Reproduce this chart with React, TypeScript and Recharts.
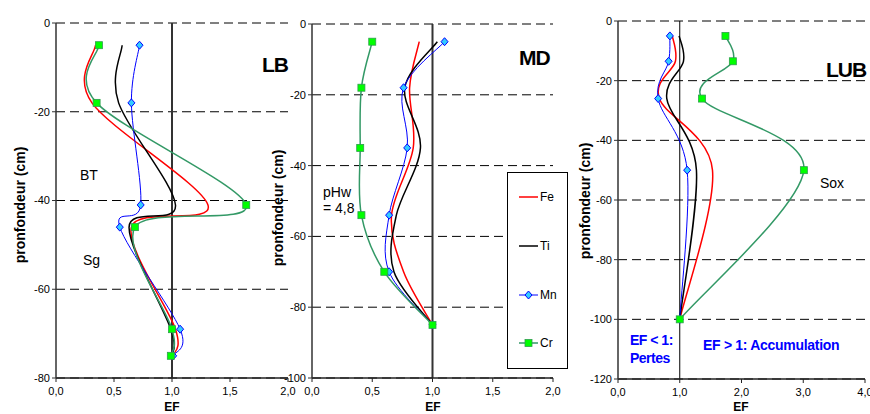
import React from 'react';
import { ScatterChart, Scatter, XAxis, YAxis, CartesianGrid, ReferenceLine } from 'recharts';

// ---- Data ----
const depthsLB = [-5, -18, -41, -46, -69, -75];
const feLB = [0.34, 0.31, 1.31, 0.65, 1.03, 1.01];
const tiLB = [0.57, 0.54, 1.03, 0.63, 0.99, 1.0];
const mnLB = [0.72, 0.65, 0.73, 0.55, 1.07, 1.01];
const crLB = [0.37, 0.35, 1.64, 0.68, 1.0, 0.99];

const depthsMD = [-5, -18, -35, -54, -70, -85];
const feMD = [0.89, 0.81, 0.84, 0.66, 0.76, 1.0];
const tiMD = [1.04, 0.77, 0.9, 0.7, 0.68, 1.0];
const mnMD = [1.1, 0.76, 0.79, 0.64, 0.64, 1.0];
const crMD = [0.5, 0.41, 0.4, 0.41, 0.6, 1.0];

const depthsLUB = [-5, -13.5, -26, -50, -100];
const feLUB = [0.88, 0.93, 0.67, 1.53, 1.0];
const tiLUB = [0.99, 1.06, 0.79, 1.27, 1.0];
const mnLUB = [0.84, 0.82, 0.65, 1.12, 1.0];
const crLUB = [1.74, 1.86, 1.36, 3.01, 1.0];

const xTicksSmall = [0, 0.5, 1, 1.5, 2];
const xTicksLUB = [0, 1, 2, 3, 4];
const yTicksLB = [0, -20, -40, -60, -80];
const yTicksMD = [0, -20, -40, -60, -80, -100];
const yTicksLUB = [0, -20, -40, -60, -80, -100, -120];

const seriesNames = ['Fe', 'Ti', 'Mn', 'Cr'];

const toPts = (depths: number[], vals: number[]) => depths.map((d, i) => ({ depth: d, ef: vals[i] }));

// Excel-like smoothed line (Catmull-Rom via Bezier)
const excelCurve = (context: any) => {
  let pts: number[][] = [];
  return {
    areaStart() {},
    areaEnd() {},
    lineStart() { pts = []; },
    point(x: number, y: number) { pts.push([+x, +y]); },
    lineEnd() {
      const n = pts.length;
      if (!n) return;
      context.moveTo(pts[0][0], pts[0][1]);
      if (n === 1) return;
      for (let i = 0; i < n - 1; i++) {
        const p0 = pts[Math.max(i - 1, 0)];
        const p1 = pts[i];
        const p2 = pts[i + 1];
        const p3 = pts[Math.min(i + 2, n - 1)];
        context.bezierCurveTo(
          p1[0] + (p2[0] - p0[0]) / 6, p1[1] + (p2[1] - p0[1]) / 6,
          p2[0] - (p3[0] - p1[0]) / 6, p2[1] - (p3[1] - p1[1]) / 6,
          p2[0], p2[1]
        );
      }
    },
  };
};

const noShape = () => <g />;
const diamond = (p: any) => (
  <path d={`M${p.cx},${p.cy - 4}L${p.cx + 3.5},${p.cy}L${p.cx},${p.cy + 4}L${p.cx - 3.5},${p.cy}Z`} fill="#33ccff" stroke="#0000ff" strokeWidth={1} />
);
const square = (p: any) => (
  <rect x={p.cx - 3.5} y={p.cy - 3.5} width={7} height={7} fill="#00ff00" stroke="#2e9e4e" strokeWidth={0.8} />
);

const fmtX = (v: number) => v.toFixed(1).replace('.', ',');
const tickStyle = { fontSize: 11, fill: '#000', fontFamily: 'Liberation Sans, Arial, sans-serif' };

type PanelProps = {
  depths: number[]; fe: number[]; ti: number[]; mn: number[]; cr: number[];
  xDomain: number[]; xTicks: number[]; yTicks: number[];
  top: number; right: number; yWidth: number; xHeight: number; refWidth: number; refColor: string;
};

const Panel = (p: PanelProps) => (
  <div style={{ position: 'absolute', left: 0, top: 0 }}>
    <ScatterChart width={870} height={414} margin={{ top: p.top, right: p.right, left: 0, bottom: 0 }}>
      <CartesianGrid horizontal vertical={false} stroke="#000" strokeDasharray="9 5" strokeWidth={1} />
      <XAxis type="number" dataKey="ef" domain={p.xDomain} ticks={p.xTicks} interval={0} tickFormatter={fmtX}
        height={p.xHeight} tickSize={4} tickMargin={5} tick={tickStyle}
        axisLine={{ stroke: '#222', strokeWidth: 1.5 }} tickLine={{ stroke: '#222' }} allowDataOverflow />
      <YAxis type="number" dataKey="depth" domain={[p.yTicks[p.yTicks.length - 1], 0]} ticks={p.yTicks} interval={0}
        width={p.yWidth} tickSize={4} tickMargin={2} tick={tickStyle}
        axisLine={{ stroke: '#333', strokeWidth: 1.5 }} tickLine={{ stroke: '#333' }} allowDataOverflow />
      <ReferenceLine x={1} stroke={p.refColor} strokeWidth={p.refWidth} />
      <Scatter name={seriesNames[0]} data={toPts(p.depths, p.fe)} line={{ stroke: '#ff0000', strokeWidth: 1.5 }}
        lineJointType={excelCurve as any} shape={noShape} isAnimationActive={false} fill="#ff0000" />
      <Scatter name={seriesNames[1]} data={toPts(p.depths, p.ti)} line={{ stroke: '#000000', strokeWidth: 1.5 }}
        lineJointType={excelCurve as any} shape={noShape} isAnimationActive={false} fill="#000000" />
      <Scatter name={seriesNames[2]} data={toPts(p.depths, p.mn)} line={{ stroke: '#0000ff', strokeWidth: 1 }}
        lineJointType={excelCurve as any} shape={diamond} isAnimationActive={false} fill="#0000ff" />
      <Scatter name={seriesNames[3]} data={toPts(p.depths, p.cr)} line={{ stroke: '#339966', strokeWidth: 1.5 }}
        lineJointType={excelCurve as any} shape={square} isAnimationActive={false} fill="#339966" />
    </ScatterChart>
  </div>
);

const titleStyle: any = { fontSize: 14, fontWeight: 'bold', fill: '#000' };
const blue = '#0000ff';

export default function App() {
  return (
    <div style={{ position: 'absolute', left: 0, top: 0, width: 870, height: 414, overflow: 'hidden', background: '#fff', fontFamily: 'Liberation Sans, Arial, sans-serif' }}>
      <Panel depths={depthsLB} fe={feLB} ti={tiLB} mn={mnLB} cr={crLB} xDomain={[0, 2]} xTicks={xTicksSmall}
        yTicks={yTicksLB} top={23} right={582} yWidth={56} xHeight={36} refWidth={2} refColor="#333" />
      <Panel depths={depthsMD} fe={feMD} ti={tiMD} mn={mnMD} cr={crMD} xDomain={[0, 2]} xTicks={xTicksSmall}
        yTicks={yTicksMD} top={24} right={317} yWidth={312} xHeight={36} refWidth={2} refColor="#333" />
      <Panel depths={depthsLUB} fe={feLUB} ti={tiLUB} mn={mnLUB} cr={crLUB} xDomain={[0, 4]} xTicks={xTicksLUB}
        yTicks={yTicksLUB} top={21} right={5} yWidth={618} xHeight={35} refWidth={1} refColor="#000" />
      <svg width={870} height={414} style={{ position: 'absolute', left: 0, top: 0, pointerEvents: 'none' }}
        fontFamily="Liberation Sans, Arial, sans-serif">
        {/* axis titles */}
        <text transform="translate(20,205) rotate(-90)" textAnchor="middle" dominantBaseline="central" style={titleStyle}>pronfondeur (cm)</text>
        <text transform="translate(278,208) rotate(-90)" textAnchor="middle" dominantBaseline="central" style={titleStyle}>pronfondeur (cm)</text>
        <text transform="translate(585,201) rotate(-90)" textAnchor="middle" dominantBaseline="central" style={titleStyle}>pronfondeur (cm)</text>
        <text x={172} y={411} textAnchor="middle" fontSize={12} fontWeight="bold">EF</text>
        <text x={433} y={411} textAnchor="middle" fontSize={12} fontWeight="bold">EF</text>
        <text x={741} y={411} textAnchor="middle" fontSize={12} fontWeight="bold">EF</text>
        {/* panel labels */}
        <text x={262} y={72} fontSize={21} fontWeight="bold" letterSpacing={-1}>LB</text>
        <text x={519} y={65} fontSize={21} fontWeight="bold" letterSpacing={-1}>MD</text>
        <text x={826} y={77} fontSize={21} fontWeight="bold" letterSpacing={-1}>LUB</text>
        {/* annotations */}
        <text x={80} y={180} fontSize={14}>BT</text>
        <text x={83} y={265} fontSize={14}>Sg</text>
        <text x={323} y={197} fontSize={14}>pHw</text>
        <text x={323} y={213} fontSize={14}>= 4,8</text>
        <text x={820} y={188} fontSize={14}>Sox</text>
        <text x={630} y={345} fontSize={14} fontWeight="bold" fill={blue} letterSpacing={-0.5}>EF &lt; 1:</text>
        <text x={630} y={363} fontSize={14} fontWeight="bold" fill={blue} letterSpacing={-0.5}>Pertes</text>
        <text x={703} y={350} fontSize={14} fontWeight="bold" fill={blue} letterSpacing={-0.3}>EF &gt; 1: Accumulation</text>
        {/* legend */}
        <rect x={507.5} y={172.5} width={60} height={196} fill="#fff" stroke="#000" strokeWidth={1} />
        <line x1={519} x2={538} y1={197} y2={197} stroke="#ff0000" strokeWidth={1.5} />
        <text x={540} y={201} fontSize={12}>{seriesNames[0]}</text>
        <line x1={519} x2={538} y1={246} y2={246} stroke="#000" strokeWidth={1.5} />
        <text x={540} y={250} fontSize={12}>{seriesNames[1]}</text>
        <line x1={519} x2={538} y1={295} y2={295} stroke="#0000ff" strokeWidth={1} />
        <path d="M528.5,291L532,295L528.5,299L525,295Z" fill="#33ccff" stroke="#0000ff" strokeWidth={1} />
        <text x={540} y={299} fontSize={12}>{seriesNames[2]}</text>
        <line x1={519} x2={538} y1={343} y2={343} stroke="#339966" strokeWidth={1.5} />
        <rect x={525} y={339.5} width={7} height={7} fill="#00ff00" stroke="#2e9e4e" strokeWidth={0.8} />
        <text x={540} y={347} fontSize={12}>{seriesNames[3]}</text>
      </svg>
    </div>
  );
}
